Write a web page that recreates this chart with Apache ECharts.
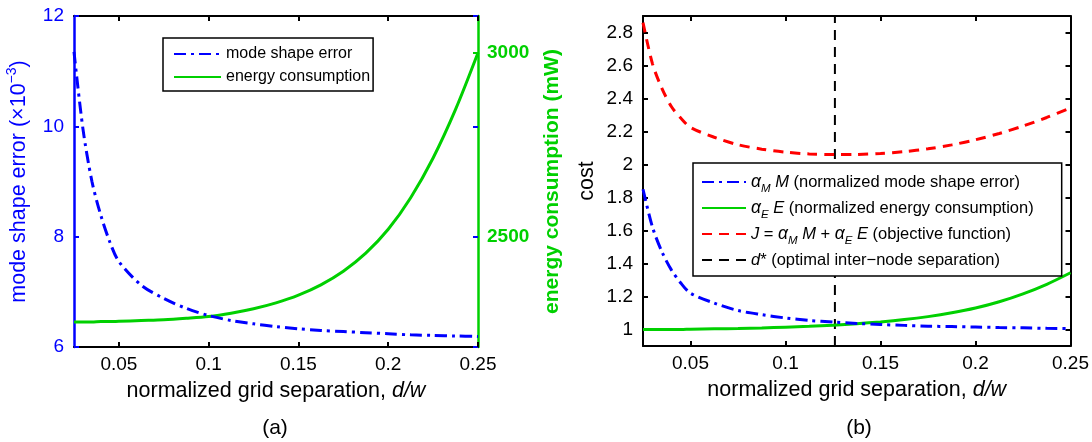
<!DOCTYPE html>
<html>
<head>
<meta charset="utf-8">
<script src="https://cdn.jsdelivr.net/npm/echarts@6/dist/echarts.min.js"></script>
<style>
  html, body { margin: 0; padding: 0; background: #fff; }
  #main { width: 1092px; height: 442px; }
</style>
</head>
<body>
<div id="main"></div>
<script>
// normalized grid separation d/w (shared x values)
var gridSep = [0.025, 0.03, 0.035, 0.04, 0.045, 0.05, 0.0625, 0.075, 0.0875, 0.1, 0.1125, 0.125, 0.1375, 0.15, 0.1625, 0.175, 0.1875, 0.2, 0.2125, 0.225, 0.2375, 0.25];
// (a) mode shape error (x10^-3) and energy consumption (mW)
var modeErr = [11.35, 9.95, 9.0, 8.38, 7.9, 7.55, 7.12, 6.88, 6.7, 6.57, 6.48, 6.42, 6.37, 6.33, 6.3, 6.28, 6.26, 6.24, 6.22, 6.21, 6.2, 6.19];
var energyMw = [2268, 2268, 2268, 2269, 2269, 2270, 2272, 2274, 2278, 2283, 2292, 2304, 2320, 2341, 2369, 2406, 2455, 2520, 2606, 2714, 2846, 3000];
// (b) normalized costs
var normM = [1.85, 1.62, 1.47, 1.36, 1.28, 1.22, 1.16, 1.115, 1.09, 1.07, 1.055, 1.045, 1.037, 1.03, 1.025, 1.02, 1.018, 1.015, 1.012, 1.01, 1.007, 1.005];
var normE = [1.0, 1.0, 1.0, 1.0, 1.0, 1.002, 1.004, 1.006, 1.009, 1.014, 1.019, 1.026, 1.035, 1.046, 1.06, 1.078, 1.101, 1.13, 1.168, 1.216, 1.274, 1.344];
var objJ = [2.86, 2.61, 2.46, 2.35, 2.28, 2.225, 2.165, 2.12, 2.093, 2.075, 2.064, 2.06, 2.061, 2.067, 2.078, 2.095, 2.119, 2.15, 2.188, 2.233, 2.285, 2.343];
var dStar = 0.126;

// tick labels
var sepTicks = [0.05, 0.1, 0.15, 0.2, 0.25];
var energyTicks = [2500, 3000];
var costTicks = [1, 1.2, 1.4, 1.6, 1.8, 2, 2.2, 2.4, 2.6, 2.8];

var FONT = 'Liberation Sans, Arial, Helvetica, sans-serif';
var BLUE = '#0000ff', GREEN = '#00d000', RED = '#ff0000';
var DASHDOT = [12, 5, 3, 5];

function pairs(ys) {
    return gridSep.map(function (x, i) { return [x, ys[i]]; });
}

function plain(v) { return String(v); }

function sepAxis(grid, pos, showLabel, name) {
    return {
        type: 'value', gridIndex: grid, position: pos, min: 0.025, max: 0.25,
        name: name || '', nameLocation: 'middle', nameGap: 33,
        nameTextStyle: { fontFamily: FONT, fontSize: 21.5, color: '#000',
            rich: { i: { fontFamily: FONT, fontSize: 21.5, fontStyle: 'italic', color: '#000' } } },
        axisLine: { show: true, lineStyle: { color: '#000', width: 2 } },
        axisTick: { show: true, inside: true, length: 5, customValues: sepTicks, lineStyle: { color: '#000', width: 2 } },
        axisLabel: { show: showLabel, customValues: sepTicks, formatter: plain, fontFamily: FONT, fontSize: 19, color: '#000', margin: 8 },
        splitLine: { show: false }
    };
}

var myChart = echarts.init(document.getElementById('main'));
myChart.setOption({
    animation: false,
    grid: [
        { left: 74, top: 16, width: 404, height: 331 },
        { left: 643, top: 16, width: 432, height: 330 }
    ],
    xAxis: [
        sepAxis(0, 'bottom', true, 'normalized grid separation, {i|d/w}'),
        sepAxis(0, 'top', false),
        sepAxis(1, 'bottom', true, 'normalized grid separation, {i|d/w}'),
        sepAxis(1, 'top', false)
    ],
    yAxis: [
        {
            type: 'value', gridIndex: 0, position: 'left', min: 6, max: 12, interval: 2,
            name: 'mode shape error (×10{sup|−3})', nameLocation: 'middle', nameGap: 41, nameRotate: 90,
            nameTextStyle: { fontFamily: FONT, fontSize: 21.5, color: BLUE,
                rich: { sup: { fontFamily: FONT, fontSize: 14, color: BLUE, verticalAlign: 'top', lineHeight: 28 } } },
            axisLine: { show: true, lineStyle: { color: BLUE, width: 2.5 } },
            axisTick: { show: true, inside: true, length: 5, lineStyle: { color: BLUE, width: 2 } },
            axisLabel: { fontFamily: FONT, fontSize: 19, color: BLUE, margin: 10 },
            splitLine: { show: false }
        },
        {
            type: 'value', gridIndex: 0, position: 'right', min: 2200, max: 3100,
            name: 'energy consumption (mW)', nameLocation: 'middle', nameGap: 64, nameRotate: 90,
            nameTextStyle: { fontFamily: FONT, fontSize: 21, fontWeight: 'bold', color: GREEN },
            axisLine: { show: true, lineStyle: { color: GREEN, width: 2.5 } },
            axisTick: { show: true, inside: true, length: 5, customValues: energyTicks, lineStyle: { color: GREEN, width: 2 } },
            axisLabel: { customValues: energyTicks, formatter: plain, fontFamily: FONT, fontSize: 19, fontWeight: 'bold', color: GREEN, margin: 9 },
            splitLine: { show: false }
        },
        {
            type: 'value', gridIndex: 0, position: 'right', min: 6, max: 12, interval: 2,
            axisLine: { show: false },
            axisTick: { show: true, inside: true, length: 5, lineStyle: { color: BLUE, width: 2 } },
            axisLabel: { show: false },
            splitLine: { show: false }
        },
        {
            type: 'value', gridIndex: 1, position: 'left', min: 0.9, max: 2.9,
            name: 'cost', nameLocation: 'middle', nameGap: 45, nameRotate: 90,
            nameTextStyle: { fontFamily: FONT, fontSize: 21.5, color: '#000' },
            axisLine: { show: true, lineStyle: { color: '#000', width: 2 } },
            axisTick: { show: true, inside: true, length: 5, customValues: costTicks, lineStyle: { color: '#000', width: 2 } },
            axisLabel: { customValues: costTicks, formatter: plain, fontFamily: FONT, fontSize: 19, color: '#000', margin: 10 },
            splitLine: { show: false }
        },
        {
            type: 'value', gridIndex: 1, position: 'right', min: 0.9, max: 2.9,
            axisLine: { show: true, lineStyle: { color: '#000', width: 2 } },
            axisTick: { show: true, inside: true, length: 5, customValues: costTicks, lineStyle: { color: '#000', width: 2 } },
            axisLabel: { show: false },
            splitLine: { show: false }
        }
    ],
    legend: [
        {
            left: 163, top: 38, orient: 'vertical', selectedMode: false,
            data: ['mode shape error', 'energy consumption'],
            itemWidth: 47, itemHeight: 12, itemGap: 5,
            padding: [7, 3, 5, 10],
            itemStyle: { opacity: 0 },
            borderColor: '#000', borderWidth: 1.5, backgroundColor: '#fff',
            textStyle: { fontFamily: FONT, fontSize: 16, color: '#000', lineHeight: 18 }
        },
        {
            left: 693, top: 163, orient: 'vertical', selectedMode: false,
            data: ['aM', 'aE', 'J', 'dstar'],
            itemWidth: 44, itemHeight: 12, itemGap: 0,
            padding: [6, 28, 3, 8],
            itemStyle: { opacity: 0 },
            borderColor: '#000', borderWidth: 1.5, backgroundColor: '#fff',
            formatter: function (name) {
                if (name === 'aM') return '{g|α}{s|M} {i|M} (normalized mode shape error)';
                if (name === 'aE') return '{g|α}{s|E} {i|E} (normalized energy consumption)';
                if (name === 'J') return '{i|J} = {g|α}{s|M} {i|M} + {g|α}{s|E} {i|E} (objective function)';
                return '{i|d}* (optimal inter−node separation)';
            },
            textStyle: {
                fontFamily: FONT, fontSize: 16.5, color: '#000', lineHeight: 26,
                rich: {
                    g: { fontFamily: FONT, fontSize: 17.5, fontStyle: 'italic', color: '#000', lineHeight: 26 },
                    i: { fontFamily: FONT, fontSize: 16.5, fontStyle: 'italic', color: '#000', lineHeight: 26 },
                    s: { fontFamily: FONT, fontSize: 11.5, fontStyle: 'italic', color: '#000', lineHeight: 12, verticalAlign: 'bottom' }
                }
            }
        }
    ],
    graphic: [
        { type: 'text', x: 275, y: 428, style: { text: '(a)', font: '21px ' + FONT, fill: '#000', align: 'center', verticalAlign: 'middle' } },
        { type: 'text', x: 859, y: 428, style: { text: '(b)', font: '21px ' + FONT, fill: '#000', align: 'center', verticalAlign: 'middle' } }
    ],
    series: [
        {
            name: 'energy consumption', type: 'line', xAxisIndex: 0, yAxisIndex: 1,
            data: pairs(energyMw), smooth: 0.3, symbol: 'none',
            lineStyle: { color: GREEN, width: 3 }, itemStyle: { color: GREEN }
        },
        {
            name: 'mode shape error', type: 'line', xAxisIndex: 0, yAxisIndex: 0,
            data: pairs(modeErr), smooth: 0.3, symbol: 'none',
            lineStyle: { color: BLUE, width: 3, type: DASHDOT }, itemStyle: { color: BLUE }
        },
        {
            name: 'dstar', type: 'line', xAxisIndex: 2, yAxisIndex: 3,
            data: [[dStar, 0.9], [dStar, 2.9]], symbol: 'none',
            lineStyle: { color: '#000', width: 2, type: [10, 7] }, itemStyle: { color: '#000' }
        },
        {
            name: 'aE', type: 'line', xAxisIndex: 2, yAxisIndex: 3,
            data: pairs(normE), smooth: 0.3, symbol: 'none',
            lineStyle: { color: GREEN, width: 3 }, itemStyle: { color: GREEN }
        },
        {
            name: 'aM', type: 'line', xAxisIndex: 2, yAxisIndex: 3,
            data: pairs(normM), smooth: 0.3, symbol: 'none',
            lineStyle: { color: BLUE, width: 3, type: DASHDOT }, itemStyle: { color: BLUE }
        },
        {
            name: 'J', type: 'line', xAxisIndex: 2, yAxisIndex: 3,
            data: pairs(objJ), smooth: 0.3, symbol: 'none',
            lineStyle: { color: RED, width: 3, type: [10, 7] }, itemStyle: { color: RED }
        }
    ]
});
</script>
</body>
</html>
